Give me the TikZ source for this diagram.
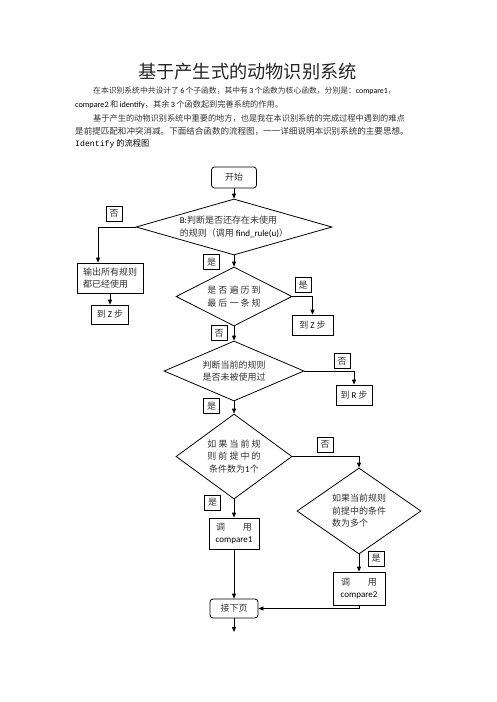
\documentclass[tikz,border=0pt]{standalone}
\usepackage{fontspec}
\setmainfont{Carlito}
\newfontfamily\cjk{Noto Sans CJK SC}
\newfontfamily\mono{Liberation Mono}
\usetikzlibrary{arrows.meta,positioning,shapes.geometric}
\newcommand\lat[1]{{\rmfamily\color{black}#1}}

\begin{document}
\begin{tikzpicture}[x=1pt,y=-1pt,
  txt/.style={font=\cjk\fontsize{9}{12.5}\selectfont,text=black!80,inner sep=0pt},
  para/.style={font=\cjk\fontsize{8.2}{13}\selectfont,text=black!80,inner sep=0pt,anchor=west},
  proc/.style={draw,line width=0.8pt,inner sep=0pt,txt},
  term/.style={proc,rounded corners=3pt},
  decision/.style={diamond,draw,line width=0.8pt,inner sep=0pt},
  tag/.style={draw,line width=0.7pt,minimum width=16,minimum height=15,inner sep=0pt,txt},
  flow/.style={line width=0.8pt,-{Triangle[length=5pt,width=4pt]}}]
  \useasboundingbox (0,0) rectangle (496,702);
  \node[font=\cjk\fontsize{18.2}{20}\selectfont,text=black!85,inner sep=0pt] (title) at (247.5,72) {基于产生式的动物识别系统};
  \node[para,font=\cjk\fontsize{7.8}{13}\selectfont] (p1) at (93,91) {在本识别系统中共设计了\,\lat{6}\,个子函数，其中有\,\lat{3}\,个函数为核心函数，分别是：\lat{compare1}，};
  \node[para] (p2) at (75,105) {\lat{compare2}\,和\,\lat{identify}，其余\,\lat{3}\,个函数起到完善系统的作用。};
  \node[para] (p3) at (93,118) {基于产生的动物识别系统中重要的地方，也是我在本识别系统的完成过程中遇到的难点};
  \node[para,font=\cjk\fontsize{8.55}{13}\selectfont] (p4) at (75,131) {是前提匹配和冲突消减。下面结合函数的流程图，一一详细说明本识别系统的主要思想。};
  \node[para,text=black] (p5) at (75,144) {{\mono Identify} 的流程图};
  \node[term,minimum width=45,minimum height=21] (start) at (234,177.5) {开始};
  \node[decision,minimum width=196,minimum height=56,label={[txt,align=left]center:{\lat{B:}判断是否还存在未使用\\的规则（调用 \lat{find\_rule(u)}）}}] (d1) at (234,227) {};
  \node[proc,minimum width=66,minimum height=30,align=left] (allused) at (110,278) {输出所有规则\\都已经使用};
  \node[proc,minimum width=37,minimum height=19] (zleft) at (110,314.5) {到 \lat{Z} 步};
  \node[decision,minimum width=116,minimum height=59,label={[txt,align=center]center:{是 否 遍 历 到\\最 后 一 条 规}}] (d2) at (234,296.5) {};
  \node[proc,minimum width=41,minimum height=20] (zright) at (312.5,325) {到 \lat{Z} 步};
  \node[decision,minimum width=140,minimum height=60,label={[txt,align=center]center:{判断当前的规则\\是否未被使用过}}] (d3) at (234,371) {};
  \node[proc,minimum width=36,minimum height=20] (rstep) at (354,395) {到 \lat{R} 步};
  \node[decision,minimum width=116,minimum height=85,label={[txt,align=center]center:{如 果 当 前 规\\则 前 提 中 的\\条件数为\lat{1}个}}] (d4) at (234,456.5) {};
  \node[decision,minimum width=124,minimum height=86,label={[txt,align=left]center:{如果当前规则\\前提中的条件\\数为多个}}] (d5) at (359,511) {};
  \node[proc,minimum width=50,minimum height=31,align=center] (cmp1) at (234,533.5) {\makebox[36pt]{调\hfill 用}\\\lat{compare1}};
  \node[proc,minimum width=52,minimum height=33,align=center] (cmp2) at (359,588.5) {\makebox[36pt]{调\hfill 用}\\\lat{compare2}};
  \node[term,minimum width=48,minimum height=19] (next) at (234,608.5) {接下页};
  \coordinate (tail) at (234,632);
  \node[tag] (no1) at (114,213.5) {否};
  \node[tag] (yes1) at (211.5,262) {是};
  \node[tag] (yes2) at (303,285) {是};
  \node[tag] (no2) at (219,333) {否};
  \node[tag] (no3) at (342,361) {否};
  \node[tag] (yes3) at (211.5,406) {是};
  \node[tag] (no4) at (325,444.5) {否};
  \node[tag] (yes4) at (212.5,502.5) {是};
  \node[tag] (yes5) at (376,558.5) {是};
  \draw[flow] (start) -- (d1);
  \draw[flow] (d1.west) -| ([xshift=-12pt]allused.north);
  \draw[flow] (allused) -- (zleft);
  \draw[flow] (d1) -- (d2);
  \draw[flow] (d2.east) -| (zright.north);
  \draw[flow] (d2) -- (d3);
  \draw[flow] (d3.east) -| (rstep.north);
  \draw[flow] (d3) -- (d4);
  \draw[flow] (d4.east) -| (d5.north);
  \draw[flow] (d4) -- (cmp1);
  \draw[flow] (d5) -- (cmp2);
  \draw[flow] (cmp1) -- (next);
  \draw[flow] (cmp2.south) |- (next.east);
  \draw[flow] (next) -- (tail);
\end{tikzpicture}
\end{document}
